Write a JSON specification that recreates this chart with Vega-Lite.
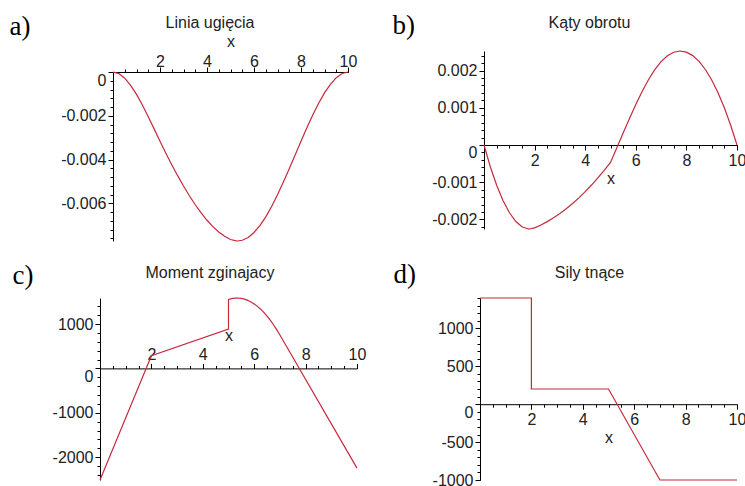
{
  "$schema": "https://vega.github.io/schema/vega-lite/v6.json",
  "autosize": {"type": "pad"},
  "padding": 0,
  "background": "white",
  "config": {
    "locale": {"number": {"decimal": ".", "thousands": "", "grouping": [3], "currency": ["", ""], "minus": "-"}},
    "view": {"stroke": null},
    "axis": {"domainColor": "#000", "domainWidth": 1, "tickColor": "#000", "tickSize": 5, "tickWidth": 1, "labelFont": "Liberation Sans", "labelFontSize": 16, "labelColor": "#222", "labelPadding": 1, "labelOverlap": false, "labelFlush": false, "grid": false, "titleFont": "Liberation Sans", "titleFontSize": 16, "titleFontWeight": "normal", "titleColor": "#222"},
    "title": {"font": "Liberation Sans", "fontSize": 16, "fontWeight": "normal", "color": "#222", "anchor": "middle", "frame": "group", "offset": 0, "baseline": "alphabetic"}
  },
  "datasets": {
    "w": [
      {"x": 0, "y": 0}, {"x": 0.25, "y": -0.0000749}, {"x": 0.5, "y": -0.000285}, {"x": 0.75, "y": -0.0006085},
      {"x": 1, "y": -0.0010233}, {"x": 1.25, "y": -0.0015078}, {"x": 1.5, "y": -0.00204}, {"x": 1.75, "y": -0.002598},
      {"x": 2, "y": -0.00316}, {"x": 2.25, "y": -0.0037072}, {"x": 2.5, "y": -0.0042333}, {"x": 2.75, "y": -0.0047353},
      {"x": 3, "y": -0.00521}, {"x": 3.25, "y": -0.0056543}, {"x": 3.5, "y": -0.006065}, {"x": 3.75, "y": -0.0064391},
      {"x": 4, "y": -0.0067733}, {"x": 4.25, "y": -0.0070647}, {"x": 4.5, "y": -0.0073101}, {"x": 4.75, "y": -0.0075062},
      {"x": 5, "y": -0.00765}, {"x": 5.25, "y": -0.0077178}, {"x": 5.3, "y": -0.0077194}, {"x": 5.5, "y": -0.0076865},
      {"x": 5.75, "y": -0.007557}, {"x": 6, "y": -0.0073317}, {"x": 6.25, "y": -0.0070157}, {"x": 6.5, "y": -0.0066166},
      {"x": 6.75, "y": -0.0061441}, {"x": 7, "y": -0.00561}, {"x": 7.25, "y": -0.0050291}, {"x": 7.5, "y": -0.0044167},
      {"x": 7.75, "y": -0.0037884}, {"x": 8, "y": -0.00316}, {"x": 8.25, "y": -0.002547}, {"x": 8.5, "y": -0.001965},
      {"x": 8.75, "y": -0.0014297}, {"x": 9, "y": -0.0009566}, {"x": 9.25, "y": -0.0005615}, {"x": 9.5, "y": -0.00026},
      {"x": 9.75, "y": -0.0000678}, {"x": 10, "y": 0}
    ],
    "theta": [
      {"x": 0, "y": 0}, {"x": 0.25, "y": -0.0005846}, {"x": 0.5, "y": -0.0010817}, {"x": 0.75, "y": -0.0014913},
      {"x": 1, "y": -0.0018133}, {"x": 1.25, "y": -0.0020479}, {"x": 1.5, "y": -0.002195}, {"x": 1.75, "y": -0.0022546},
      {"x": 1.8, "y": -0.0022559}, {"x": 2, "y": -0.0022267}, {"x": 2.25, "y": -0.0021488}, {"x": 2.5, "y": -0.0020583},
      {"x": 2.75, "y": -0.0019554}, {"x": 3, "y": -0.00184}, {"x": 3.25, "y": -0.0017121}, {"x": 3.5, "y": -0.0015717},
      {"x": 3.75, "y": -0.0014188}, {"x": 4, "y": -0.0012533}, {"x": 4.25, "y": -0.0010754}, {"x": 4.5, "y": -0.000885},
      {"x": 4.75, "y": -0.0006821}, {"x": 5, "y": -0.0004667}, {"x": 5.25, "y": -0.0000737}, {"x": 5.5, "y": 0.0003225},
      {"x": 5.75, "y": 0.0007124}, {"x": 6, "y": 0.0010866}, {"x": 6.25, "y": 0.0014359}, {"x": 6.5, "y": 0.0017508},
      {"x": 6.75, "y": 0.002022}, {"x": 7, "y": 0.00224}, {"x": 7.25, "y": 0.0023971}, {"x": 7.5, "y": 0.0024917},
      {"x": 7.75, "y": 0.0025238}, {"x": 8, "y": 0.0024933}, {"x": 8.25, "y": 0.0024004}, {"x": 8.5, "y": 0.002245},
      {"x": 8.75, "y": 0.0020271}, {"x": 9, "y": 0.0017467}, {"x": 9.25, "y": 0.0014038}, {"x": 9.5, "y": 0.0009983},
      {"x": 9.75, "y": 0.0005304}, {"x": 10, "y": 0}
    ],
    "M": [
      {"i": 1, "x": 0, "y": -2513.3}, {"i": 2, "x": 2, "y": 286.7}, {"i": 3, "x": 5, "y": 886.7}, {"i": 4, "x": 5, "y": 1553.3},
      {"i": 5, "x": 5.125, "y": 1573.6}, {"i": 6, "x": 5.25, "y": 1584.6}, {"i": 7, "x": 5.333, "y": 1586.7}, {"i": 8, "x": 5.5, "y": 1578.3},
      {"i": 9, "x": 5.625, "y": 1561.1}, {"i": 10, "x": 5.75, "y": 1534.6}, {"i": 11, "x": 5.875, "y": 1498.6}, {"i": 12, "x": 6, "y": 1453.3},
      {"i": 13, "x": 6.125, "y": 1398.6}, {"i": 14, "x": 6.25, "y": 1334.6}, {"i": 15, "x": 6.375, "y": 1261.1}, {"i": 16, "x": 6.5, "y": 1178.3},
      {"i": 17, "x": 6.625, "y": 1086.1}, {"i": 18, "x": 6.75, "y": 984.6}, {"i": 19, "x": 6.875, "y": 873.6}, {"i": 20, "x": 7, "y": 753.3},
      {"i": 21, "x": 10, "y": -2246.7}
    ],
    "V": [
      {"i": 1, "x": 0, "y": 1400}, {"i": 2, "x": 2, "y": 1400}, {"i": 3, "x": 2, "y": 200}, {"i": 4, "x": 5, "y": 200},
      {"i": 5, "x": 7, "y": -1000}, {"i": 6, "x": 10, "y": -1000}
    ]
  },
  "columns": 2,
  "spacing": 0,
  "bounds": "flush",
  "concat": [
    {
      "width": 380, "height": 250,
      "title": {"text": "Linia ugięcia", "dx": 20, "dy": 35},
      "data": {"name": "w"},
      "resolve": {"scale": {"x": "independent", "y": "independent"}, "axis": {"x": "independent", "y": "independent"}},
      "layer": [
        {
          "mark": {"type": "line", "color": "#c8283c", "strokeWidth": 1.2},
          "encoding": {
            "x": {"field": "x", "type": "quantitative",
              "scale": {"domain": [0, 10], "range": [113, 348], "nice": false, "zero": false},
              "axis": {"orient": "top", "offset": -72, "values": [2, 4, 6, 8, 10], "format": "d", "title": "x", "labelPadding": -2, "titlePadding": 4}},
            "y": {"field": "y", "type": "quantitative",
              "scale": {"domain": [-0.00772, 0], "range": [241, 72], "nice": false, "zero": false},
              "axis": {"orient": "left", "offset": -113, "values": [0, -0.002, -0.004, -0.006], "format": "~g", "labelPadding": 2,
                "labelBaseline": {"condition": {"test": "datum.value === 0", "value": "top"}, "value": "middle"},
                "title": "a)", "titleAngle": 0, "titleX": -104, "titleY": 34, "titleAlign": "left", "titleBaseline": "alphabetic",
                "titleFont": "Liberation Serif", "titleFontSize": 27, "titleColor": "#000"}}
          }
        },
        {
          "mark": {"type": "line", "strokeOpacity": 0},
          "encoding": {
            "x": {"field": "x", "type": "quantitative",
              "scale": {"domain": [0, 10], "range": [113, 348], "nice": false, "zero": false},
              "axis": {"orient": "top", "offset": -72, "values": [0.5, 1, 1.5, 2, 2.5, 3, 3.5, 4, 4.5, 5, 5.5, 6, 6.5, 7, 7.5, 8, 8.5, 9, 9.5, 10], "labels": false, "domain": false, "title": null, "tickSize": 3}},
            "y": {"field": "y", "type": "quantitative",
              "scale": {"domain": [-0.00772, 0], "range": [241, 72], "nice": false, "zero": false},
              "axis": {"orient": "left", "offset": -113, "values": [-0.0004, -0.0008, -0.0012, -0.0016, -0.002, -0.0024, -0.0028, -0.0032, -0.0036, -0.004, -0.0044, -0.0048, -0.0052, -0.0056, -0.006, -0.0064, -0.0068, -0.0072, -0.0076], "labels": false, "domain": false, "title": null, "tickSize": 3}}
          }
        }
      ]
    },
    {
      "width": 365, "height": 250,
      "title": {"text": "Kąty obrotu", "dx": 27, "dy": 35},
      "data": {"name": "theta"},
      "resolve": {"scale": {"x": "independent", "y": "independent"}, "axis": {"x": "independent", "y": "independent"}},
      "layer": [
        {
          "mark": {"type": "line", "color": "#c8283c", "strokeWidth": 1.2},
          "encoding": {
            "x": {"field": "x", "type": "quantitative",
              "scale": {"domain": [0, 10], "range": [104, 357], "nice": false, "zero": false},
              "axis": {"orient": "bottom", "offset": -105, "values": [2, 4, 6, 8, 10], "format": "d", "title": "x", "labelPadding": 2, "titlePadding": 2}},
            "y": {"field": "y", "type": "quantitative",
              "scale": {"domain": [-0.002256, 0.002524], "range": [229, 51], "nice": false, "zero": false},
              "axis": {"orient": "left", "offset": -104, "values": [-0.002, -0.001, 0, 0.001, 0.002], "format": "~g", "labelPadding": 2,
                "labelBaseline": {"condition": {"test": "datum.value === 0", "value": "top"}, "value": "middle"},
                "title": "b)", "titleAngle": 0, "titleX": -92, "titleY": 33, "titleAlign": "left", "titleBaseline": "alphabetic",
                "titleFont": "Liberation Serif", "titleFontSize": 27, "titleColor": "#000"}}
          }
        },
        {
          "mark": {"type": "line", "strokeOpacity": 0},
          "encoding": {
            "x": {"field": "x", "type": "quantitative",
              "scale": {"domain": [0, 10], "range": [104, 357], "nice": false, "zero": false},
              "axis": {"orient": "bottom", "offset": -105, "values": [0.5, 1, 1.5, 2, 2.5, 3, 3.5, 4, 4.5, 5, 5.5, 6, 6.5, 7, 7.5, 8, 8.5, 9, 9.5, 10], "labels": false, "domain": false, "title": null, "tickSize": 3}},
            "y": {"field": "y", "type": "quantitative",
              "scale": {"domain": [-0.002256, 0.002524], "range": [229, 51], "nice": false, "zero": false},
              "axis": {"orient": "left", "offset": -104, "values": [-0.0022, -0.002, -0.0018, -0.0016, -0.0014, -0.0012, -0.001, -0.0008, -0.0006, -0.0004, -0.0002, 0.0002, 0.0004, 0.0006, 0.0008, 0.001, 0.0012, 0.0014, 0.0016, 0.0018, 0.002, 0.0022, 0.0024], "labels": false, "domain": false, "title": null, "tickSize": 3}}
          }
        }
      ]
    },
    {
      "width": 380, "height": 236,
      "title": {"text": "Moment zginajacy", "dx": 20, "dy": 35},
      "data": {"name": "M"},
      "resolve": {"scale": {"x": "independent", "y": "independent"}, "axis": {"x": "independent", "y": "independent"}},
      "layer": [
        {
          "mark": {"type": "line", "color": "#c8283c", "strokeWidth": 1.2},
          "encoding": {
            "order": {"field": "i", "type": "quantitative"},
            "x": {"field": "x", "type": "quantitative",
              "scale": {"domain": [0, 10], "range": [100, 357], "nice": false, "zero": false},
              "axis": {"orient": "top", "offset": -118.4, "values": [2, 4, 6, 8, 10], "format": "d", "title": "x", "labelPadding": 1, "titlePadding": 3}},
            "y": {"field": "y", "type": "quantitative",
              "scale": {"domain": [-2513.3, 1586.7], "range": [230, 48], "nice": false, "zero": false},
              "axis": {"orient": "left", "offset": -100, "values": [-2000, -1000, 0, 1000], "format": "d", "labelPadding": 2,
                "labelBaseline": {"condition": {"test": "datum.value === 0", "value": "top"}, "value": "middle"},
                "title": "c)", "titleAngle": 0, "titleX": -88, "titleY": 33, "titleAlign": "left", "titleBaseline": "alphabetic",
                "titleFont": "Liberation Serif", "titleFontSize": 27, "titleColor": "#000"}}
          }
        },
        {
          "mark": {"type": "line", "strokeOpacity": 0},
          "encoding": {
            "order": {"field": "i", "type": "quantitative"},
            "x": {"field": "x", "type": "quantitative",
              "scale": {"domain": [0, 10], "range": [100, 357], "nice": false, "zero": false},
              "axis": {"orient": "top", "offset": -118.4, "values": [0.5, 1, 1.5, 2, 2.5, 3, 3.5, 4, 4.5, 5, 5.5, 6, 6.5, 7, 7.5, 8, 8.5, 9, 9.5, 10], "labels": false, "domain": false, "title": null, "tickSize": 3}},
            "y": {"field": "y", "type": "quantitative",
              "scale": {"domain": [-2513.3, 1586.7], "range": [230, 48], "nice": false, "zero": false},
              "axis": {"orient": "left", "offset": -100, "values": [-2400, -2200, -2000, -1800, -1600, -1400, -1200, -1000, -800, -600, -400, -200, 200, 400, 600, 800, 1000, 1200, 1400], "labels": false, "domain": false, "title": null, "tickSize": 3}}
          }
        }
      ]
    },
    {
      "width": 365, "height": 236,
      "title": {"text": "Sily tnące", "dx": 27, "dy": 35},
      "data": {"name": "V"},
      "resolve": {"scale": {"x": "independent", "y": "independent"}, "axis": {"x": "independent", "y": "independent"}},
      "layer": [
        {
          "mark": {"type": "line", "color": "#c8283c", "strokeWidth": 1.2},
          "encoding": {
            "order": {"field": "i", "type": "quantitative"},
            "x": {"field": "x", "type": "quantitative",
              "scale": {"domain": [0, 10], "range": [100, 357], "nice": false, "zero": false},
              "axis": {"orient": "bottom", "offset": -81.8, "values": [2, 4, 6, 8, 10], "format": "d", "title": "x", "labelPadding": 2, "titlePadding": 2}},
            "y": {"field": "y", "type": "quantitative",
              "scale": {"domain": [-1000, 1400], "range": [230, 48], "nice": false, "zero": false},
              "axis": {"orient": "left", "offset": -100, "values": [-1000, -500, 0, 500, 1000], "format": "d", "labelPadding": 2,
                "labelBaseline": {"condition": {"test": "datum.value === 0", "value": "top"}, "value": "middle"},
                "title": "d)", "titleAngle": 0, "titleX": -87, "titleY": 32, "titleAlign": "left", "titleBaseline": "alphabetic",
                "titleFont": "Liberation Serif", "titleFontSize": 27, "titleColor": "#000"}}
          }
        },
        {
          "mark": {"type": "line", "strokeOpacity": 0},
          "encoding": {
            "order": {"field": "i", "type": "quantitative"},
            "x": {"field": "x", "type": "quantitative",
              "scale": {"domain": [0, 10], "range": [100, 357], "nice": false, "zero": false},
              "axis": {"orient": "bottom", "offset": -81.8, "values": [0.5, 1, 1.5, 2, 2.5, 3, 3.5, 4, 4.5, 5, 5.5, 6, 6.5, 7, 7.5, 8, 8.5, 9, 9.5, 10], "labels": false, "domain": false, "title": null, "tickSize": 3}},
            "y": {"field": "y", "type": "quantitative",
              "scale": {"domain": [-1000, 1400], "range": [230, 48], "nice": false, "zero": false},
              "axis": {"orient": "left", "offset": -100, "values": [-1000, -900, -800, -700, -600, -500, -400, -300, -200, -100, 100, 200, 300, 400, 500, 600, 700, 800, 900, 1000, 1100, 1200, 1300, 1400], "labels": false, "domain": false, "title": null, "tickSize": 3}}
          }
        }
      ]
    }
  ]
}
